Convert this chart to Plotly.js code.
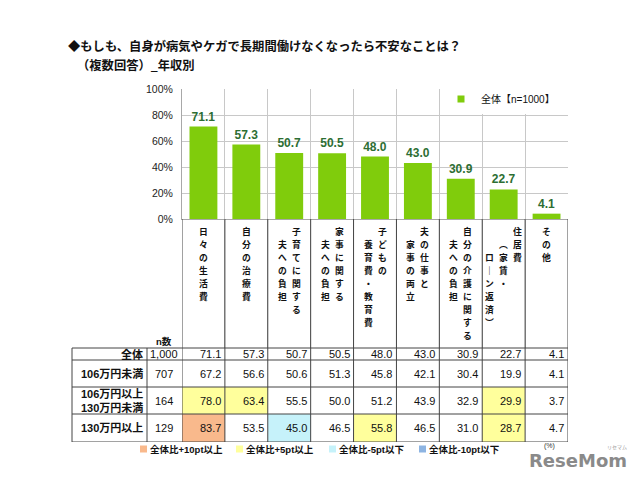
<!DOCTYPE html>
<html>
<head>
<meta charset="utf-8">
<script src="https://cdn.plot.ly/plotly-3.0.1.min.js"></script>
<style>html,body{margin:0;padding:0;background:#fff;}#chart{width:640px;height:480px;}</style>
</head>
<body>
<div id="chart"></div>
<script>
// ---------- data ----------
const titleLine1 = '◆もしも、自身が病気やケガで長期間働けなくなったら不安なことは？';
const titleLine2 = '（複数回答）_年収別';
const categories = ['日々の生活費','自分の治療費','子育てに関する夫への負担','家事に関する夫への負担','子どもの養育費・教育費','夫の仕事と家事の両立','自分の介護に関する夫への負担','住居費（家賃・ローン返済）','その他'];
const categoryLabelColumns = [['日々の生活費'],['自分の治療費'],['子育てに関する','夫への負担'],['家事に関する','夫への負担'],['子どもの','養育費・教育費'],['夫の仕事と','家事の両立'],['自分の介護に関する','夫への負担'],['住居費','（家賃・','ローン返済）'],['その他']];
const seriesName = '全体【n=1000】';
const overallValues = [71.1, 57.3, 50.7, 50.5, 48.0, 43.0, 30.9, 22.7, 4.1];
const under106Values = [67.2, 56.6, 50.6, 51.3, 45.8, 42.1, 30.4, 19.9, 4.1];
const from106to130Values = [78.0, 63.4, 55.5, 50.0, 51.2, 43.9, 32.9, 29.9, 3.7];
const over130Values = [83.7, 53.5, 45.0, 46.5, 55.8, 46.5, 31.0, 28.7, 4.7];
const rowLabels = ['全体', '106万円未満', '106万円以上<br>130万円未満', '130万円以上'];
const rowCounts = [1000, 707, 164, 129];
const nHeader = 'n数';
const diffLabels = ['全体比+10pt以上', '全体比+5pt以上', '全体比-5pt以下', '全体比-10pt以下'];
const yTicks = [0, 20, 40, 60, 80, 100];
const yTickText = ['0%', '20%', '40%', '60%', '80%', '100%'];

// ---------- layout constants ----------
const W = 640, H = 480;
const px = v => v / W;
const py = v => 1 - v / H;
const JP = 'Liberation Sans, Noto Sans CJK JP, sans-serif';
const green = '#80cc0c';
const labelGreen = '#2d6e33';
const diffColors = ['#f9b98c', '#ffff9c', '#c6f2fa', '#8db4e2'];
const rowEdges = [348, 360, 387, 414, 442];
const legendSquareX = [140, 236, 329, 419];

const tableRows = [overallValues, under106Values, from106to130Values, over130Values];
function diffCode(v, base) {
  const d = Math.round((v - base) * 10) / 10;
  if (d >= 10) return 2;
  if (d >= 5) return 1;
  if (d <= -10) return -2;
  if (d <= -5) return -1;
  return 0;
}
const zCodes = tableRows.map(r => r.map((v, i) => diffCode(v, overallValues[i])));

const traces = [
  {
    type: 'bar', x: categories, y: overallValues, xaxis: 'x', yaxis: 'y',
    marker: {color: green}, showlegend: false, hoverinfo: 'skip',
    texttemplate: '%{y:.1f}', textposition: 'outside', cliponaxis: false, constraintext: 'none',
    textfont: {family: 'Liberation Sans', size: 12, color: labelGreen, weight: 'bold'}
  },
  {
    type: 'scatter', mode: 'markers', x: [null], y: [null], xaxis: 'x', yaxis: 'y',
    name: seriesName, marker: {symbol: 'square', size: 7, color: green}, showlegend: true
  },
  {
    type: 'heatmap', x: categories, y: rowEdges, z: zCodes, xaxis: 'x', yaxis: 'y2',
    zmin: -2, zmax: 2, showscale: false, hoverinfo: 'skip',
    colorscale: [[0, diffColors[3]], [0.125, diffColors[3]], [0.125, diffColors[2]], [0.375, diffColors[2]],
                 [0.375, '#ffffff'], [0.625, '#ffffff'], [0.625, diffColors[1]], [0.875, diffColors[1]],
                 [0.875, diffColors[0]], [1, diffColors[0]]]
  }
];

const annotations = [];
const shapes = [];

// title
annotations.push({xref: 'paper', yref: 'paper', x: px(66), y: py(46), xanchor: 'left', yanchor: 'middle', showarrow: false,
  text: titleLine1, font: {family: 'Noto Sans CJK JP', size: 12.3, color: '#111', weight: 'bold'}});
annotations.push({xref: 'paper', yref: 'paper', x: px(75), y: py(65), xanchor: 'left', yanchor: 'middle', showarrow: false,
  text: titleLine2, font: {family: 'Noto Sans CJK JP', size: 12.3, color: '#111', weight: 'bold'}});

// vertical category labels (one glyph per annotation, columns right-to-left, each column one step lower)
const vertMap = {'（': '︵', '）': '︶', 'ー': '｜'};
categories.forEach((cat, i) => {
  const cols = categoryLabelColumns[i];
  const n = cols.length;
  cols.forEach((col, k) => {
    Array.from(col).forEach((ch, j) => {
      annotations.push({xref: 'x', x: i, yref: 'y2', y: 231.5 + (k + j) * 13, xanchor: 'center', yanchor: 'middle',
        xshift: ((n - 1) / 2 - k) * 14, showarrow: false, borderpad: 0, text: vertMap[ch] || ch,
        font: {family: 'Noto Sans CJK JP', size: 8.8, color: '#111', weight: 'bold'}});
    });
  });
});

// table text
annotations.push({xref: 'paper', x: px(164), yref: 'y2', y: 341, xanchor: 'center', yanchor: 'middle', showarrow: false,
  text: nHeader, font: {family: JP, size: 9.5, color: '#111', weight: 'bold'}});
tableRows.forEach((vals, r) => {
  const yc = (rowEdges[r] + rowEdges[r + 1]) / 2;
  annotations.push({xref: 'paper', x: px(144), yref: 'y2', y: yc, xanchor: 'right', yanchor: 'middle', align: 'right',
    showarrow: false, borderpad: 0, text: rowLabels[r], font: {family: JP, size: 11, color: '#111', weight: 'bold'}});
  annotations.push({xref: 'paper', x: px(164), yref: 'y2', y: yc, xanchor: 'center', yanchor: 'middle',
    showarrow: false, text: rowCounts[r].toLocaleString('en-US'), font: {family: JP, size: 11, color: '#111'}});
  vals.forEach((v, i) => {
    annotations.push({xref: 'x', x: i + 0.5, yref: 'y2', y: yc, xanchor: 'right', yanchor: 'middle', xshift: -2,
      showarrow: false, text: v.toFixed(1), font: {family: JP, size: 11, color: '#111'}});
  });
});

// table lines
for (let b = 0; b <= categories.length; b++) {
  shapes.push({type: 'line', xref: 'x', x0: b - 0.5, x1: b - 0.5, yref: 'y2', y0: 219, y1: rowEdges[rowEdges.length - 1],
    line: {color: '#444', width: 1}});
}
rowEdges.forEach(e => {
  shapes.push({type: 'line', xref: 'paper', x0: px(72), x1: px(568), yref: 'y2', y0: e, y1: e, line: {color: '#444', width: 1}});
});
[72, 147].forEach(xv => {
  shapes.push({type: 'line', xref: 'paper', x0: px(xv), x1: px(xv), yref: 'y2', y0: rowEdges[0], y1: rowEdges[rowEdges.length - 1],
    line: {color: '#444', width: 1}});
});

// bottom legend (cell colour key)
diffLabels.forEach((lab, j) => {
  const sx = legendSquareX[j];
  shapes.push({type: 'rect', xref: 'paper', yref: 'paper', x0: px(sx), x1: px(sx + 7), y0: py(452.5), y1: py(445.5),
    fillcolor: diffColors[j], line: {width: 0}});
  annotations.push({xref: 'paper', yref: 'paper', x: px(sx + 8), y: py(449), xanchor: 'left', yanchor: 'middle',
    showarrow: false, text: lab, font: {family: JP, size: 9.5, color: '#111', weight: 'bold'}});
});
annotations.push({xref: 'paper', yref: 'paper', x: px(549), y: py(446), xanchor: 'center', yanchor: 'middle',
  showarrow: false, text: '(%)', font: {family: JP, size: 7, color: '#333'}});
// watermark
annotations.push({xref: 'paper', yref: 'paper', x: px(578), y: py(460), xanchor: 'center', yanchor: 'middle',
  showarrow: false, text: 'ReseMom', font: {family: 'DejaVu Sans', size: 18, color: '#8a8a8a', weight: 'bold'}});
annotations.push({xref: 'paper', yref: 'paper', x: px(617), y: py(447), xanchor: 'center', yanchor: 'middle',
  showarrow: false, text: 'リセマム', font: {family: 'Noto Sans CJK JP', size: 5, color: '#999'}});

const layout = {
  width: W, height: H,
  margin: {l: 0, r: 0, t: 0, b: 0},
  paper_bgcolor: '#fff', plot_bgcolor: '#fff',
  font: {family: JP, color: '#222'},
  bargap: 0.35,
  showlegend: true,
  legend: {x: px(441), y: py(99), xanchor: 'left', yanchor: 'middle', bgcolor: '#fff', borderwidth: 0,
    font: {family: JP, size: 10, color: '#111'}, itemclick: false},
  xaxis: {domain: [px(182), px(568)], anchor: 'y', type: 'category', range: [-0.5, categories.length - 0.5],
    tickson: 'boundaries', showgrid: true, gridcolor: '#c8c8c8', ticks: '', showticklabels: false,
    showline: true, linecolor: '#a8a8a8', zeroline: false, fixedrange: true},
  yaxis: {domain: [py(219), py(89)], anchor: 'x', range: [0, 100], tickmode: 'array', tickvals: yTicks, ticktext: yTickText,
    showgrid: true, gridcolor: '#c8c8c8', showline: true, linecolor: '#a8a8a8', zeroline: false, ticks: '',
    ticklabelstandoff: 6, tickfont: {family: 'Liberation Sans', size: 10.5, color: '#222'}, fixedrange: true},
  yaxis2: {domain: [py(442), py(219)], anchor: 'x', range: [442, 219], visible: false, showgrid: false, fixedrange: true},
  annotations: annotations,
  shapes: shapes
};

Plotly.newPlot('chart', traces, layout, {staticPlot: true, displayModeBar: false});
</script>
</body>
</html>
